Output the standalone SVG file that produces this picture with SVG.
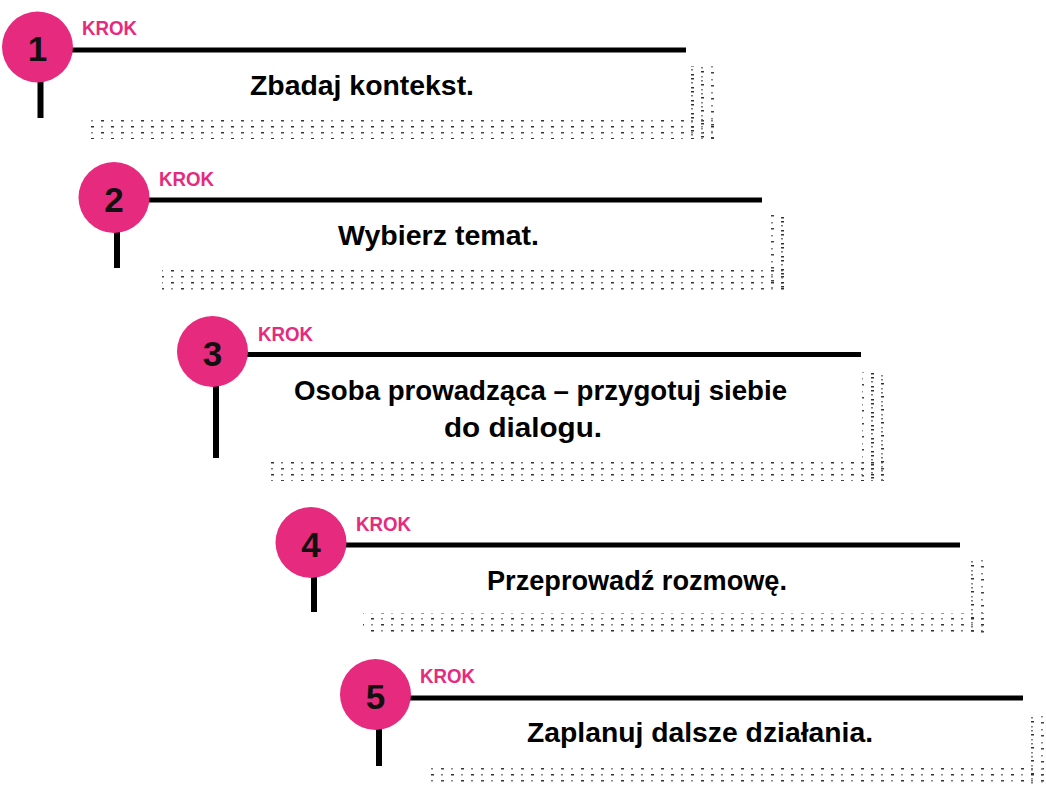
<svg xmlns="http://www.w3.org/2000/svg" width="1046" height="785" viewBox="0 0 1046 785">
<style>
.circ{fill:#E62A7E}
.bar{stroke:#000;stroke-width:5;fill:none}
.stem{stroke:#000;stroke-width:6;fill:none}
.num{font-family:"Liberation Sans","DejaVu Sans",sans-serif;font-weight:bold;font-size:35px;fill:#111;text-anchor:middle}
.krok{font-family:"Liberation Sans","DejaVu Sans",sans-serif;font-weight:bold;font-size:21px;fill:#E62A7E}
.lbl{font-family:"Liberation Sans","DejaVu Sans",sans-serif;font-weight:bold;font-size:27px;fill:#000;text-anchor:middle}
.hb{fill:url(#dotsH)}
.vb{fill:url(#dotsV)}
</style>
<defs>
<pattern id="dotsH" patternUnits="userSpaceOnUse" x="0" y="0" width="40" height="12">
<rect x="1" y="0" width="3" height="1.5" fill="#444"/>
<rect x="11" y="0" width="2" height="1.5" fill="#888"/>
<rect x="21" y="0" width="3" height="1.5" fill="#333"/>
<rect x="31" y="0" width="2" height="1.5" fill="#777"/>
<rect x="1" y="6" width="2" height="1.5" fill="#777"/>
<rect x="11" y="6" width="3" height="1.5" fill="#333"/>
<rect x="21" y="6" width="2" height="1.5" fill="#888"/>
<rect x="31" y="6" width="3" height="1.5" fill="#333"/>
</pattern>
<pattern id="dotsV" patternUnits="userSpaceOnUse" x="0" y="0" width="30" height="13">
<rect x="1" y="0" width="3" height="1.5" fill="#333"/>
<rect x="1" y="4" width="2" height="1.5" fill="#777"/>
<rect x="1" y="9" width="3" height="1.5" fill="#333"/>
<rect x="11" y="2" width="2" height="1.5" fill="#777"/>
<rect x="11" y="6" width="3" height="1.5" fill="#333"/>
<rect x="11" y="11" width="2" height="1.5" fill="#888"/>
<rect x="21" y="1" width="2" height="1.5" fill="#888"/>
<rect x="21" y="7" width="3" height="1.5" fill="#444"/>
</pattern>
</defs>

<g id="step1">
<rect class="hb" x="87" y="117" width="628" height="22"/>
<rect class="vb" x="689" y="66" width="26" height="73"/>
<line class="bar" x1="70" y1="50" x2="686" y2="50"/>
<line class="stem" x1="40.5" y1="80" x2="40.5" y2="118"/>
<circle class="circ" cx="37.5" cy="47" r="35.5"/>
<text class="num" x="37.5" y="61">1</text>
<text class="krok" x="82" y="35" textLength="55" lengthAdjust="spacingAndGlyphs">KROK</text>
<text class="lbl" x="362" y="95" textLength="224" lengthAdjust="spacingAndGlyphs">Zbadaj kontekst.</text>
</g>

<g id="step2">
<rect class="hb" x="162" y="268" width="628" height="22"/>
<rect class="vb" x="764" y="215" width="26" height="75"/>
<line class="bar" x1="147" y1="200" x2="762" y2="200"/>
<line class="stem" x1="117" y1="230" x2="117" y2="268"/>
<circle class="circ" cx="114" cy="197.5" r="35.5"/>
<text class="num" x="114" y="211.5">2</text>
<text class="krok" x="159" y="186" textLength="55" lengthAdjust="spacingAndGlyphs">KROK</text>
<text class="lbl" x="438.5" y="245" textLength="201" lengthAdjust="spacingAndGlyphs">Wybierz temat.</text>
</g>

<g id="step3">
<rect class="hb" x="268" y="459" width="620" height="22"/>
<rect class="vb" x="862" y="372" width="26" height="109"/>
<line class="bar" x1="246" y1="354.5" x2="861" y2="354.5"/>
<line class="stem" x1="216" y1="384" x2="216" y2="458"/>
<circle class="circ" cx="212.5" cy="351.5" r="35.5"/>
<text class="num" x="212.5" y="366">3</text>
<text class="krok" x="258" y="341" textLength="55" lengthAdjust="spacingAndGlyphs">KROK</text>
<text class="lbl" x="540.5" y="400" textLength="493" lengthAdjust="spacingAndGlyphs">Osoba prowadząca – przygotuj siebie</text>
<text class="lbl" x="523" y="437" textLength="158" lengthAdjust="spacingAndGlyphs">do dialogu.</text>
</g>

<g id="step4">
<rect class="hb" x="363" y="613" width="627" height="22"/>
<rect class="vb" x="964" y="560" width="26" height="75"/>
<line class="bar" x1="344" y1="545" x2="960" y2="545"/>
<line class="stem" x1="314" y1="575" x2="314" y2="612"/>
<circle class="circ" cx="311" cy="542.5" r="35.5"/>
<text class="num" x="311" y="556.5">4</text>
<text class="krok" x="356" y="531" textLength="55" lengthAdjust="spacingAndGlyphs">KROK</text>
<text class="lbl" x="637" y="590" textLength="300" lengthAdjust="spacingAndGlyphs">Przeprowadź rozmowę.</text>
</g>

<g id="step5">
<rect class="hb" x="425" y="766" width="621" height="19"/>
<rect class="vb" x="1027" y="715" width="19" height="70"/>
<line class="bar" x1="409" y1="698" x2="1023" y2="698"/>
<line class="stem" x1="379" y1="728" x2="379" y2="766"/>
<circle class="circ" cx="375.5" cy="694.5" r="35.5"/>
<text class="num" x="375.5" y="708.5">5</text>
<text class="krok" x="420" y="683" textLength="55" lengthAdjust="spacingAndGlyphs">KROK</text>
<text class="lbl" x="700" y="742" textLength="346" lengthAdjust="spacingAndGlyphs">Zaplanuj dalsze działania.</text>
</g>
</svg>
